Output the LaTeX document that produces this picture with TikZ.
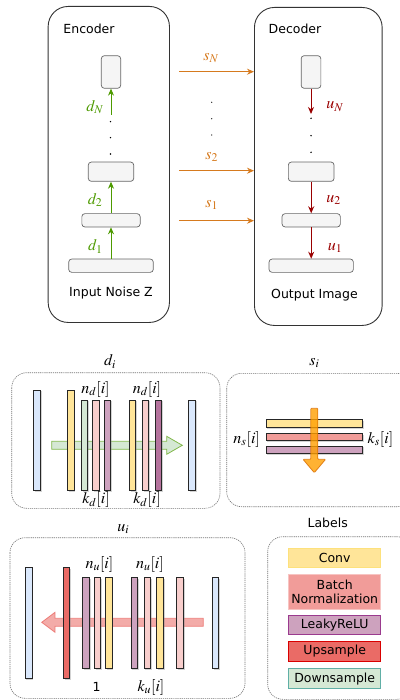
\documentclass[tikz,border=0pt]{standalone}
\usepackage{mathptmx}
\usepackage{fontspec}
\setmainfont{DejaVu Sans}
\usetikzlibrary{arrows.meta,shadows}

\definecolor{encgreen}{HTML}{4D9A00}
\definecolor{skiporange}{HTML}{D67A1E}
\definecolor{decred}{HTML}{990000}
\definecolor{blkfill}{HTML}{F5F5F5}
\definecolor{blkline}{HTML}{666666}
\definecolor{cblue}{HTML}{DAE8FC}
\definecolor{cyellow}{HTML}{FFE599}
\definecolor{cgreen}{HTML}{D5E8D4}
\definecolor{cpink}{HTML}{F8CECC}
\definecolor{cpurple}{HTML}{CDA2BE}
\definecolor{cdpurple}{HTML}{B5739D}
\definecolor{cred}{HTML}{EA6B66}
\definecolor{cbn}{HTML}{F19C99}

\tikzset{
  bigbox/.style={draw=black!80, line width=0.9pt, rounded corners=20pt, anchor=north west, inner sep=0pt},
  blk/.style={draw=blkline, fill=blkfill, line width=0.7pt, rounded corners=3pt, inner sep=0pt},
  dashbox/.style={draw=black!55, line width=0.6pt, dash pattern=on 1.2pt off 0.9pt, rounded corners=15pt},
  bar/.style={draw=black!85, line width=0.8pt, drop shadow={shadow xshift=1.3pt, shadow yshift=-1.3pt, opacity=0.35}},
  encarrow/.style={draw=encgreen, line width=1pt, -{Stealth[length=7pt,width=6pt]}},
  decarrow/.style={draw=decred, line width=1pt, -{Stealth[length=7pt,width=6pt]}},
  skiparrow/.style={draw=skiporange, line width=1pt, -{Stealth[length=7pt,width=6pt]}},
  txt/.style={font=\fontsize{12.5}{13}\selectfont, inner sep=0pt},
  mathlbl/.style={font=\fontsize{16}{17}\selectfont, inner sep=0pt},
  dot/.style={circle, fill=black, inner sep=0pt, minimum size=1.6pt},
  legend/.style={line width=0.8pt, minimum width=92pt, inner sep=0pt, anchor=north west, align=center, font=\fontsize{12.5}{14.5}\selectfont}
}

\begin{document}
\begin{tikzpicture}[x=1pt,y=-1pt]
\useasboundingbox (0,0) rectangle (399,700);

% ---------- encoder ----------
\node[bigbox, minimum width=121.3pt, minimum height=316pt] (enc) at (47.7,6) {};
\node[txt] (enctitle) at (89,29) {Encoder};
\node[blk, minimum width=19.4pt, minimum height=32.6pt] (e4) at (111,72) {};
\node[blk, minimum width=45.4pt, minimum height=19.3pt] (e3) at (111,171.7) {};
\node[blk, minimum width=58.3pt, minimum height=13.3pt] (e2) at (111,220.3) {};
\node[blk, minimum width=84.6pt, minimum height=13.3pt] (e1) at (111,265.7) {};
\node[txt] (enclbl) at (111,293) {Input Noise Z};
\coordinate (dNstart) at (111,115);
\draw[encarrow] (e1.north) -- (e2.south);
\draw[encarrow] (e2.north) -- (e3.south);
\draw[encarrow] (dNstart) -- (e4.south);
\node[mathlbl, text=encgreen] (d1) at (95.3,246.7) {$d_1$};
\node[mathlbl, text=encgreen] (d2) at (95,200) {$d_2$};
\node[mathlbl, text=encgreen] (dN) at (95,107) {$d_N$};
\node[dot] (ed1) at (110.5,121.7) {};
\node[dot] (ed2) at (110.5,137.7) {};
\node[dot] (ed3) at (110.5,154) {};

% ---------- decoder ----------
\node[bigbox, minimum width=127.7pt, minimum height=318pt] (dec) at (254,7) {};
\node[txt] (dectitle) at (295,29) {Decoder};
\node[blk, minimum width=19.7pt, minimum height=32.6pt] (c4) at (311,72) {};
\node[blk, minimum width=45.7pt, minimum height=19.3pt] (c3) at (311.2,171.7) {};
\node[blk, minimum width=58.3pt, minimum height=13.3pt] (c2) at (311.2,220.3) {};
\node[blk, minimum width=84.3pt, minimum height=13.3pt] (c1) at (311.2,265.7) {};
\node[txt] (declbl) at (314.5,295) {Output Image};
\coordinate (uNend) at (311,114);
\draw[decarrow] (c4.south) -- (uNend);
\draw[decarrow] (c3.south) -- (c2.north);
\draw[decarrow] (c2.south) -- (c1.north);
\node[mathlbl, text=decred] (uN) at (335,106.7) {$u_N$};
\node[mathlbl, text=decred] (u2) at (333.7,200) {$u_2$};
\node[mathlbl, text=decred] (u1) at (335,248.3) {$u_1$};
\node[dot] (cd1) at (311,118.3) {};
\node[dot] (cd2) at (311,135.7) {};
\node[dot] (cd3) at (311,152.3) {};

% ---------- skip connections ----------
\coordinate (sNa) at (179,71.7);
\coordinate (s2a) at (179,170.7);
\coordinate (s1a) at (179,220.7);
\draw[skiparrow] (sNa) -- (sNa -| dec.west);
\draw[skiparrow] (s2a) -- (s2a -| dec.west);
\draw[skiparrow] (s1a) -- (s1a -| dec.west);
\node[mathlbl, text=skiporange] (sN) at (211,58.3) {$s_N$};
\node[mathlbl, text=skiporange] (s2) at (211.7,156.7) {$s_2$};
\node[mathlbl, text=skiporange] (s1) at (211.7,205) {$s_1$};
\node[dot, minimum size=1.3pt] (sd1) at (211.7,102.3) {};
\node[dot, minimum size=1.3pt] (sd2) at (211.7,118.7) {};
\node[dot, minimum size=1.3pt] (sd3) at (211.7,135) {};

% ---------- downsampling block d_i ----------
\draw[dashbox] (11.7,372.7) rectangle (220,508.3);
\node[mathlbl] (ditl) at (110,361.7) {$d_i$};
\filldraw[fill=cgreen, draw=encgreen!70, line width=0.8pt]
  (51.7,441.3) -- (166.7,441.3) -- (166.7,436.3) -- (182.3,445.3) -- (166.7,454.3) -- (166.7,449.3) -- (51.7,449.3) -- cycle;
\path[bar, fill=cblue]    (33.3,390) rectangle (40.3,490.7);
\path[bar, fill=cyellow]  (67.3,390) rectangle (74,490.7);
\path[bar, fill=cgreen]   (81.3,400) rectangle (87.8,490.7);
\path[bar, fill=cpink]    (92.7,400) rectangle (99,490.7);
\path[bar, fill=cpurple]  (104,400) rectangle (110.5,490.7);
\path[bar, fill=cyellow]  (129.3,400) rectangle (135.8,490.7);
\path[bar, fill=cpink]    (142.3,400) rectangle (148.8,490.7);
\path[bar, fill=cdpurple] (155,400) rectangle (161.7,490.7);
\path[bar, fill=cblue]    (188.7,400) rectangle (195.2,490.7);
\node[mathlbl] (nd1) at (95.5,389) {$n_d[i]$};
\node[mathlbl] (nd2) at (147,389) {$n_d[i]$};
\node[mathlbl] (kd1) at (96,499.5) {$k_d[i]$};
\node[mathlbl] (kd2) at (147,499.5) {$k_d[i]$};

% ---------- skip block s_i ----------
\draw[dashbox] (226.7,373.3) rectangle (412,506.7);
\node[mathlbl] (sitl) at (314.3,363) {$s_i$};
\path[bar, fill=cyellow]  (266,419.3) rectangle (362.7,427.3);
\path[bar, fill=cbn]      (266,433.3) rectangle (362.7,440.7);
\path[bar, fill=cpurple]  (266,446) rectangle (362.7,453.3);
\filldraw[fill=orange!75!yellow, fill opacity=0.8, draw=orange!85!black, draw opacity=0.8, line width=0.8pt, rounded corners=0.8pt]
  (310.8,408.3) -- (317.8,408.3) -- (317.8,459.3) -- (325.6,459.3) -- (314.3,472.7) -- (303,459.3) -- (310.8,459.3) -- cycle;
\node[mathlbl] (ns) at (246.7,439) {$n_s[i]$};
\node[mathlbl] (ks) at (380.5,439) {$k_s[i]$};

% ---------- upsampling block u_i ----------
\draw[dashbox] (10,537.7) rectangle (245,698.3);
\node[mathlbl] (uitl) at (123.3,529) {$u_i$};
\filldraw[fill=cbn, fill opacity=0.85, draw=cred, draw opacity=0.8, line width=0.8pt]
  (203.3,618.3) -- (55,618.3) -- (55,612.3) -- (41.7,622.3) -- (55,632.3) -- (55,626.3) -- (203.3,626.3) -- cycle;
\path[bar, fill=cblue]    (25,567.3) rectangle (32,678.3);
\path[bar, fill=cred]     (63.3,567.3) rectangle (69.5,678.3);
\path[bar, fill=cpurple]  (82.7,577.3) rectangle (89.2,668.3);
\path[bar, fill=cpink]    (94.3,577.3) rectangle (100.7,668.3);
\path[bar, fill=cyellow]  (105.7,577.3) rectangle (112,668.3);
\path[bar, fill=cpurple]  (131,577.3) rectangle (137.5,668.3);
\path[bar, fill=cpink]    (144,577.3) rectangle (150.3,668.3);
\path[bar, fill=cyellow]  (156.7,577.3) rectangle (163.2,668.3);
\path[bar, fill=cpink]    (176.7,577.3) rectangle (183.2,668.3);
\path[bar, fill=cblue]    (212.3,577.3) rectangle (218.8,668.3);
\node[mathlbl] (nu1) at (99.5,564) {$n_u[i]$};
\node[mathlbl] (nu2) at (150,564) {$n_u[i]$};
\node[txt] (one) at (96.7,687) {1};
\node[mathlbl] (ku) at (151,687) {$k_u[i]$};

% ---------- legend ----------
\node[txt] (lgtitle) at (327.7,523.3) {Labels};
\draw[dashbox] (267.7,536.7) rectangle (412,699.3);
\node[legend, fill=cyellow, draw=yellow!60!orange!50, minimum height=19.6pt] (lconv) at (288.3,547.7) {Conv};
\node[legend, fill=cbn, draw=cpink!80!cbn, minimum height=34.7pt] (lbn) at (288.3,574.3) {Batch\\Normalization};
\node[legend, fill=cpurple, draw=violet!50!cdpurple, minimum height=19.3pt] (lrelu) at (288.3,615) {LeakyReLU};
\node[legend, fill=cred, draw=red!85!black, minimum height=19.7pt] (lup) at (288.3,641) {Upsample};
\node[legend, fill=cgreen, draw=teal!55!cgreen, minimum height=20pt] (ldown) at (288.3,668.3) {Downsample};
\end{tikzpicture}
\end{document}
